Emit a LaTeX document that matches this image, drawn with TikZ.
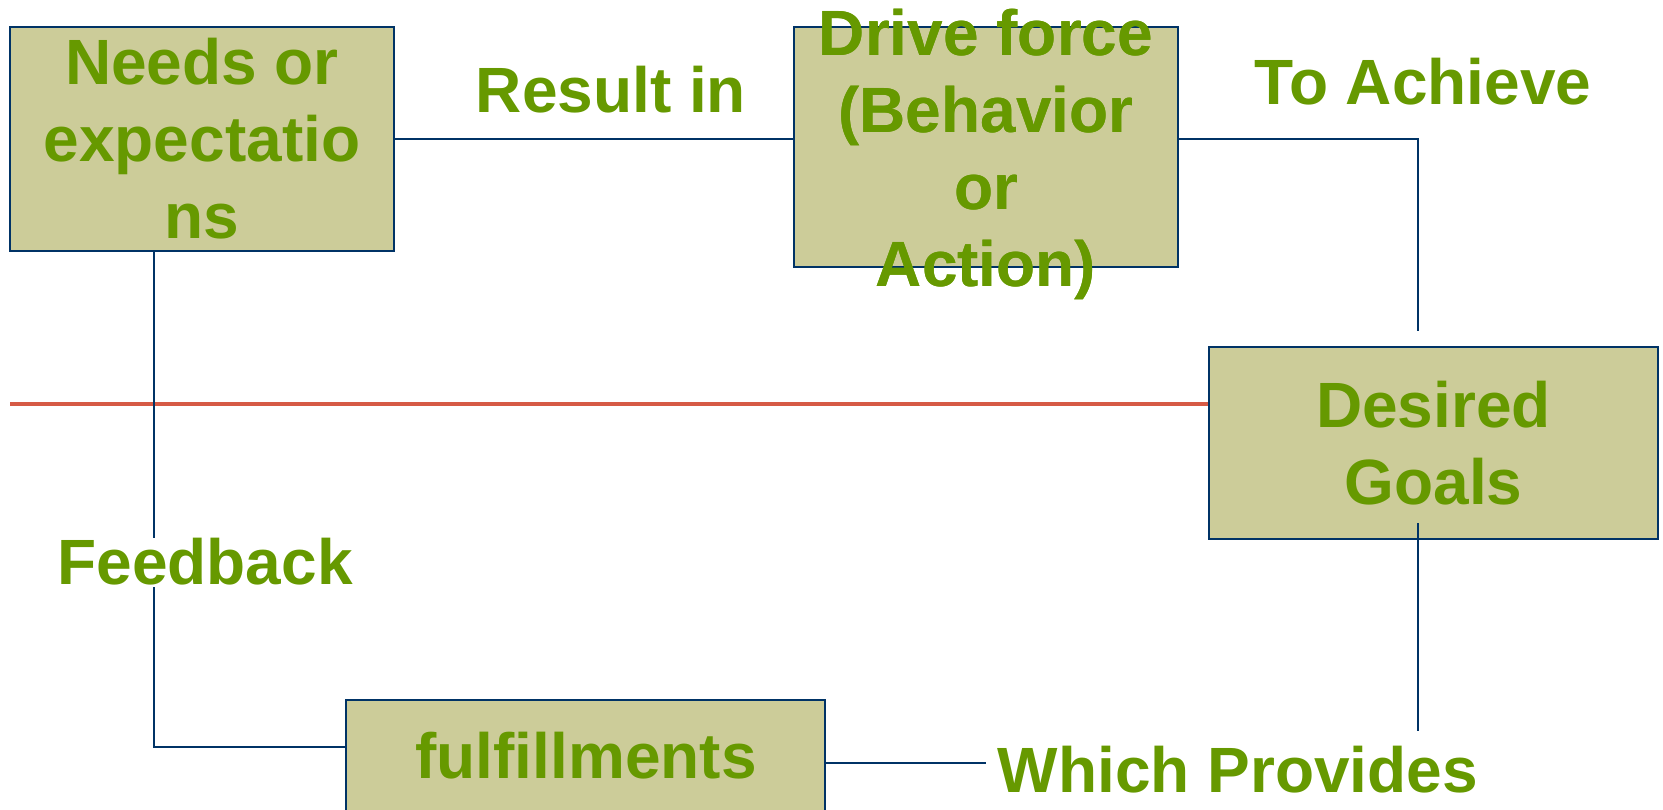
\documentclass[tikz,border=0pt]{standalone}
\usepackage{fontspec}
\setmainfont{Liberation Sans}
\definecolor{txtgreen}{HTML}{669900}
\definecolor{boxfill}{HTML}{CCCC99}
\definecolor{navy}{HTML}{003366}
\definecolor{redline}{HTML}{D65A45}
\begin{document}
\begin{tikzpicture}[x=1pt,y=-1pt,
  box/.style={draw=navy,line width=2pt,fill=boxfill,inner sep=0pt,
    font=\fontsize{64}{77}\selectfont\bfseries,text=txtgreen,align=center},
  lbl/.style={font=\fontsize{64}{77}\selectfont\bfseries,text=txtgreen,inner sep=0pt,align=center},
  conn/.style={draw=navy,line width=2pt},
  divider/.style={draw=redline,line width=4pt}]
\useasboundingbox (0,0) rectangle (1663,809);
% boxes
\node[box,minimum width=384pt,minimum height=224pt] (needs) at (202,139) {Needs or\\expectatio\\ns};
\node[box,minimum width=384pt,minimum height=240pt] (drive) at (986,147) {};
\node[box,minimum width=449pt,minimum height=192pt] (goals) at (1433.5,443) {Desired\\Goals};
\node[box,minimum width=479pt,minimum height=200pt,anchor=north] (fulfil) at (585.5,699) {};
% texts
\node[lbl] (drivetxt) at (986,154) {Drive force\\(Behavior\\or\\Action)};
\node[lbl,anchor=base] (fultxt) at (586,778) {fulfillments};
\node[lbl,anchor=base] (result) at (611,112) {Result in};
\node[lbl,anchor=base] (achieve) at (1423,104) {To Achieve};
\node[lbl,anchor=base] (feedback) at (205,584) {Feedback};
\node[lbl,anchor=base] (which) at (1238,792) {Which Provides};
% coordinates
\coordinate (ta) at (1418,331);
\coordinate (gb1) at (1418,523);
\coordinate (gb2) at (1418,731);
\coordinate (fa) at (154,251);
\coordinate (fb) at (154,538);
\coordinate (fc) at (154,587);
\coordinate (fd) at (154,747);
\coordinate (wp) at (986,763);
\coordinate (rl) at (10,404);
% red divider
\path[divider] (rl) -- (rl -| goals.west);
% connectors
\path[conn] (needs.east) -- (needs.east -| drive.west);
\path[conn] (needs.east -| drive.east) -| (ta);
\path[conn] (gb1) -- (gb2);
\path[conn] (fa) -- (fb);
\path[conn] (fc) -- (fd) -- (fd -| fulfil.west);
\path[conn] (wp -| fulfil.east) -- (wp);
% redraw texts above lines
\node[lbl] at (drivetxt) {Drive force\\(Behavior\\or\\Action)};
\end{tikzpicture}
\end{document}
